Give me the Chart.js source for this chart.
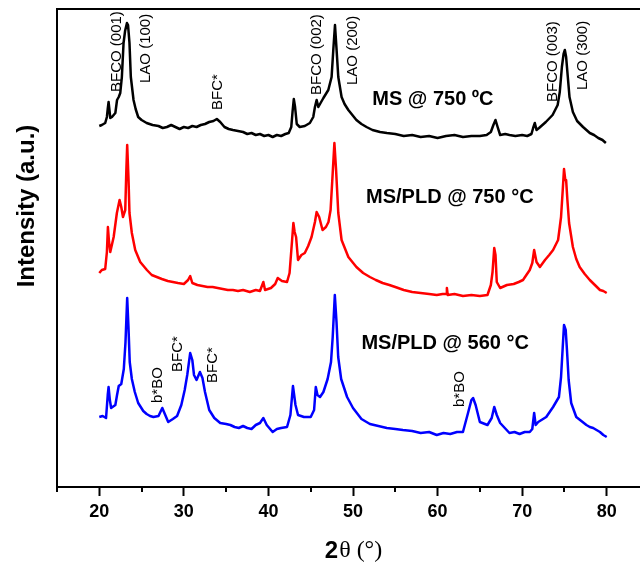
<!DOCTYPE html>
<html>
<head>
<meta charset="utf-8">
<script src="https://cdn.jsdelivr.net/npm/chart.js@4.4.1/dist/chart.umd.min.js"></script>
<style>
  html, body { margin: 0; padding: 0; overflow: hidden; background: #fff; }
  canvas { display: block; }
</style>
</head>
<body>
<canvas id="xrd" width="660" height="566"></canvas>
<script>
// 2θ (deg) and intensity (a.u., offsets included)
const msTheta = [20.0, 20.3, 20.7, 20.9, 21.0, 21.1, 21.2, 21.3, 21.5, 21.9, 22.1, 22.3, 22.48, 22.67, 22.87, 23.05, 23.27, 23.4, 23.57, 23.73, 24.05, 24.3, 24.6, 25.0, 25.6, 26.3, 27.0, 27.5, 28.0, 28.5, 29.0, 29.5, 30.0, 30.5, 31.0, 31.5, 32.0, 32.5, 33.0, 33.5, 33.9, 34.3, 34.8, 35.3, 35.8, 36.4, 37.0, 37.5, 38.0, 38.5, 39.0, 39.5, 40.0, 40.5, 41.0, 41.5, 42.0, 42.4, 42.7, 42.85, 43.0, 43.15, 43.35, 43.7, 44.3, 44.9, 45.3, 45.5, 45.7, 45.9, 46.5, 47.08, 47.47, 47.67, 47.87, 48.06, 48.26, 48.65, 49.0, 49.45, 50.4, 51.0, 51.6, 52.3, 53.2, 54.0, 55.0, 56.0, 57.0, 58.0, 59.0, 60.0, 61.0, 62.0, 63.0, 64.0, 65.0, 65.8, 66.3, 66.6, 66.85, 67.1, 67.4, 68.0, 68.5, 69.2, 70.0, 70.6, 71.1, 71.3, 71.5, 71.7, 72.0, 72.8, 73.6, 74.2, 74.45, 74.7, 74.9, 75.05, 75.2, 75.4, 75.6, 76.0, 76.5, 77.2, 78.0, 78.5, 79.0, 79.5, 79.9];
const msInt = [361, 362, 364, 370, 378, 385, 377, 369, 370, 374, 387, 390, 394, 410, 444, 456, 464, 462, 444, 410, 387, 378, 370, 367, 364, 362, 361, 359, 360, 362, 360, 358, 360, 359, 361, 360, 362, 363, 365, 366, 368, 365, 360, 358, 357, 356, 355, 353, 354, 352, 353, 351, 352, 350, 352, 351, 353, 354, 360, 375, 388, 380, 363, 360, 361, 364, 370, 380, 387, 380, 389, 397, 410, 437, 462, 437, 410, 390, 383, 377, 367, 363, 360, 357, 355, 354, 353, 351, 352, 350, 351, 349, 351, 352, 350, 351, 351, 352, 355, 362, 367, 360, 352, 353, 352, 351, 352, 351, 353, 359, 364, 357, 359, 365, 372, 382, 395, 420, 433, 437, 430, 410, 390, 375, 366, 360, 354, 352, 349, 347, 344];

const pld750Theta = [20.0, 20.3, 20.7, 20.9, 21.02, 21.15, 21.3, 21.7, 22.08, 22.4, 22.6, 22.8, 23.07, 23.2, 23.3, 23.46, 23.57, 23.85, 24.25, 24.84, 25.63, 26.2, 26.8, 27.4, 28.1, 28.7, 29.3, 30.0, 30.5, 30.75, 31.0, 31.6, 32.2, 32.8, 33.4, 34.0, 34.6, 35.2, 35.8, 36.4, 37.0, 37.8, 38.5, 39.0, 39.4, 39.6, 40.3, 40.8, 41.1, 41.6, 42.2, 42.5, 42.8, 42.95, 43.1, 43.27, 43.5, 43.9, 44.3, 44.7, 45.1, 45.5, 45.7, 46.0, 46.4, 46.8, 47.1, 47.35, 47.6, 47.8, 48.0, 48.26, 48.65, 49.45, 50.4, 51.2, 52.0, 52.7, 53.5, 54.3, 55.0, 56.0, 57.0, 58.0, 59.0, 59.9, 60.6, 61.0, 61.1, 61.2, 62.0, 63.0, 64.0, 65.0, 65.9, 66.3, 66.5, 66.7, 66.85, 67.0, 67.4, 68.2, 69.0, 69.6, 70.1, 70.9, 71.2, 71.42, 71.7, 72.1, 72.7, 73.2, 73.66, 74.25, 74.45, 74.6, 74.8, 74.95, 75.1, 75.2, 75.35, 75.55, 76.0, 76.4, 76.8, 77.4, 78.0, 78.6, 79.2, 79.6, 80.0];
const pld750Int = [214, 217, 218, 235, 260, 245, 235, 250, 274, 287, 280, 270, 277, 317, 342, 307, 274, 254, 237, 225, 217, 212, 210, 208, 206, 205, 204, 203, 207, 211, 204, 202, 201, 200, 200, 199, 198, 197, 197, 196, 197, 195, 197, 196, 205, 197, 199, 203, 209, 206, 205, 214, 247, 264, 255, 250, 227, 232, 234, 241, 250, 265, 275, 270, 257, 260, 265, 277, 314, 344, 317, 274, 247, 230, 220, 214, 210, 207, 204, 202, 200, 197, 195, 194, 193, 192, 193, 193, 199, 192, 193, 191, 192, 191, 192, 202, 215, 239, 232, 205, 199, 202, 203, 205, 207, 217, 224, 237, 225, 220, 227, 232, 237, 247, 260, 270, 297, 318, 307, 307, 287, 264, 240, 228, 220, 213, 207, 202, 197, 196, 194];

const pld560Theta = [20.0, 20.4, 20.8, 21.0, 21.1, 21.25, 21.4, 21.9, 22.1, 22.3, 22.6, 22.9, 23.1, 23.3, 23.45, 23.6, 23.85, 24.2, 24.6, 25.2, 25.6, 26.0, 26.4, 27.0, 27.45, 27.8, 28.15, 28.7, 29.2, 29.7, 30.1, 30.4, 30.75, 31.0, 31.2, 31.5, 31.9, 32.2, 32.5, 33.0, 33.6, 34.3, 35.0, 35.5, 36.0, 36.5, 37.0, 37.5, 38.0, 38.5, 39.0, 39.4, 39.8, 40.5, 41.0, 41.5, 42.2, 42.6, 42.9, 43.2, 43.5, 44.2, 45.0, 45.4, 45.6, 45.8, 46.1, 46.5, 47.0, 47.4, 47.6, 47.85, 48.05, 48.25, 48.6, 49.3, 50.0, 51.0, 52.0, 53.0, 54.0, 55.0, 55.9, 57.0, 58.0, 59.0, 59.9, 60.7, 61.5, 62.3, 63.0, 63.6, 64.0, 64.2, 64.5, 65.0, 65.9, 66.4, 66.7, 67.0, 67.4, 68.5, 69.1, 69.7, 70.3, 70.9, 71.2, 71.42, 71.6, 71.9, 72.85, 73.66, 74.35, 74.6, 74.8, 74.95, 75.15, 75.3, 75.5, 75.8, 76.4, 77.0, 77.6, 78.0, 78.4, 78.8, 79.2, 79.6, 80.0];
const pld560Int = [70, 71, 69, 92, 100, 87, 79, 82, 92, 101, 103, 118, 145, 189, 160, 125, 108, 95, 84, 76, 73, 71, 70, 71, 79, 72, 65, 68, 71, 82, 97, 112, 134, 127, 112, 107, 115, 109, 95, 77, 69, 64, 63, 62, 60, 59, 61, 59, 58, 62, 64, 69, 62, 55, 58, 59, 60, 72, 101, 82, 72, 70, 70, 77, 100, 92, 90, 95, 108, 125, 150, 192, 165, 130, 108, 90, 79, 68, 63, 61, 59, 58, 57, 56, 54, 55, 52, 54, 53, 55, 55, 74, 87, 89, 82, 65, 62, 69, 80, 72, 64, 54, 55, 53, 55, 55, 58, 74, 62, 65, 70, 80, 90, 110, 140, 162, 157, 137, 107, 84, 70, 66, 62, 60, 59, 57, 55, 52, 50];

// peak annotations (vertical) and sample names (horizontal)
const peakLabels = ['BFCO (001)', 'LAO (100)', 'BFC*', 'BFCO (002)', 'LAO (200)', 'BFCO (003)', 'LAO (300)', 'b*BO', 'BFC*', 'BFC*', 'b*BO'];
const peakLabelTheta = [22.1, 25.55, 34.05, 45.75, 50.0, 73.6, 77.15, 26.95, 29.3, 33.45, 62.65];
const peakLabelInt = [395, 404, 377, 392, 402, 385, 397, 84, 115, 104, 80];

const sampleNames = ['MS @ 750 ºC', 'MS/PLD @ 750 °C', 'MS/PLD @ 560 °C'];
const sampleTheta = [59.45, 61.45, 60.9];
const sampleInt = [388, 290, 144];

const majorTicks = [20, 30, 40, 50, 60, 70, 80];
const minorTicks = [15, 25, 35, 45, 55, 65, 75, 85];

function toPoints(xs, ys) {
    return xs.map((x, i) => ({ x: x, y: ys[i] }));
}

// frame, minor ticks, labels
const annotate = {
    id: 'annotate',
    afterDraw(chart) {
        const ctx = chart.ctx;
        const xs = chart.scales.x;
        const ys = chart.scales.y;
        const area = chart.chartArea;
        ctx.save();
        ctx.strokeStyle = '#000';
        ctx.lineWidth = 2;
        ctx.beginPath();
        ctx.moveTo(area.left - 1, area.top);
        ctx.lineTo(area.right, area.top);
        ctx.lineTo(area.right, area.bottom);
        ctx.stroke();

        minorTicks.forEach(v => {
            const px = Math.round(xs.getPixelForValue(v));
            ctx.beginPath();
            ctx.moveTo(px, area.bottom);
            ctx.lineTo(px, area.bottom + 5);
            ctx.stroke();
        });

        ctx.fillStyle = '#000';
        ctx.font = '15px "Liberation Sans", Arial, sans-serif';
        ctx.textAlign = 'left';
        ctx.textBaseline = 'middle';
        peakLabels.forEach((t, i) => {
            ctx.save();
            ctx.translate(xs.getPixelForValue(peakLabelTheta[i]), ys.getPixelForValue(peakLabelInt[i]));
            ctx.rotate(-Math.PI / 2);
            ctx.fillText(t, 0, 0);
            ctx.restore();
        });

        ctx.font = 'bold 20px "Liberation Sans", Arial, sans-serif';
        ctx.textAlign = 'center';
        sampleNames.forEach((t, i) => {
            ctx.fillText(t, xs.getPixelForValue(sampleTheta[i]), ys.getPixelForValue(sampleInt[i]));
        });

        // y title
        ctx.save();
        ctx.translate(27, 206);
        ctx.rotate(-Math.PI / 2);
        ctx.font = 'bold 24px "Liberation Sans", Arial, sans-serif';
        ctx.fillText('Intensity (a.u.)', 0, 0);
        ctx.restore();

        // x title: bold 2 + serif theta
        const boldPart = '2';
        const restPart = 'θ (°)';
        ctx.textAlign = 'left';
        ctx.font = 'bold 24px "Liberation Sans", Arial, sans-serif';
        const w1 = ctx.measureText(boldPart).width;
        ctx.font = '24px "Liberation Serif", "Times New Roman", serif';
        const w2 = ctx.measureText(restPart).width;
        const x0 = 353 - (w1 + w2) / 2;
        ctx.font = 'bold 24px "Liberation Sans", Arial, sans-serif';
        ctx.fillText(boldPart, x0, 551);
        ctx.font = '24px "Liberation Serif", "Times New Roman", serif';
        ctx.fillText(restPart, x0 + w1 + 1, 551);
        ctx.restore();
    }
};

const ctx = document.getElementById('xrd').getContext('2d');
const lineStyle = { borderWidth: 2.5, pointRadius: 0, tension: 0, fill: false, borderJoinStyle: 'round' };

new Chart(ctx, {
    type: 'line',
    data: {
        datasets: [
            Object.assign({ label: 'MS @ 750 ºC', data: toPoints(msTheta, msInt), borderColor: '#000000' }, lineStyle),
            Object.assign({ label: 'MS/PLD @ 750 °C', data: toPoints(pld750Theta, pld750Int), borderColor: '#ff0000' }, lineStyle),
            Object.assign({ label: 'MS/PLD @ 560 °C', data: toPoints(pld560Theta, pld560Int), borderColor: '#0000ff' }, lineStyle)
        ]
    },
    options: {
        responsive: false,
        animation: false,
        layout: { padding: { left: 57, top: 9, right: 11, bottom: 0 } },
        plugins: { legend: { display: false }, tooltip: { enabled: false } },
        scales: {
            x: {
                type: 'linear',
                min: 15,
                max: 85,
                afterBuildTicks: s => { s.ticks = majorTicks.map(v => ({ value: v })); },
                afterFit: s => { s.height = 79; },
                grid: { drawOnChartArea: false, drawTicks: true, tickLength: 9, tickWidth: 2, tickColor: '#000' },
                border: { display: true, color: '#000', width: 2 },
                ticks: {
                    color: '#000',
                    padding: 5,
                    maxRotation: 0,
                    font: { family: '"Liberation Sans", Arial, sans-serif', size: 18, weight: 'bold' }
                }
            },
            y: {
                min: 0,
                max: 478,
                afterFit: s => { s.width = 0; },
                grid: { display: false },
                border: { display: true, color: '#000', width: 2 },
                ticks: { display: false }
            }
        }
    },
    plugins: [annotate]
});
</script>
</body>
</html>
